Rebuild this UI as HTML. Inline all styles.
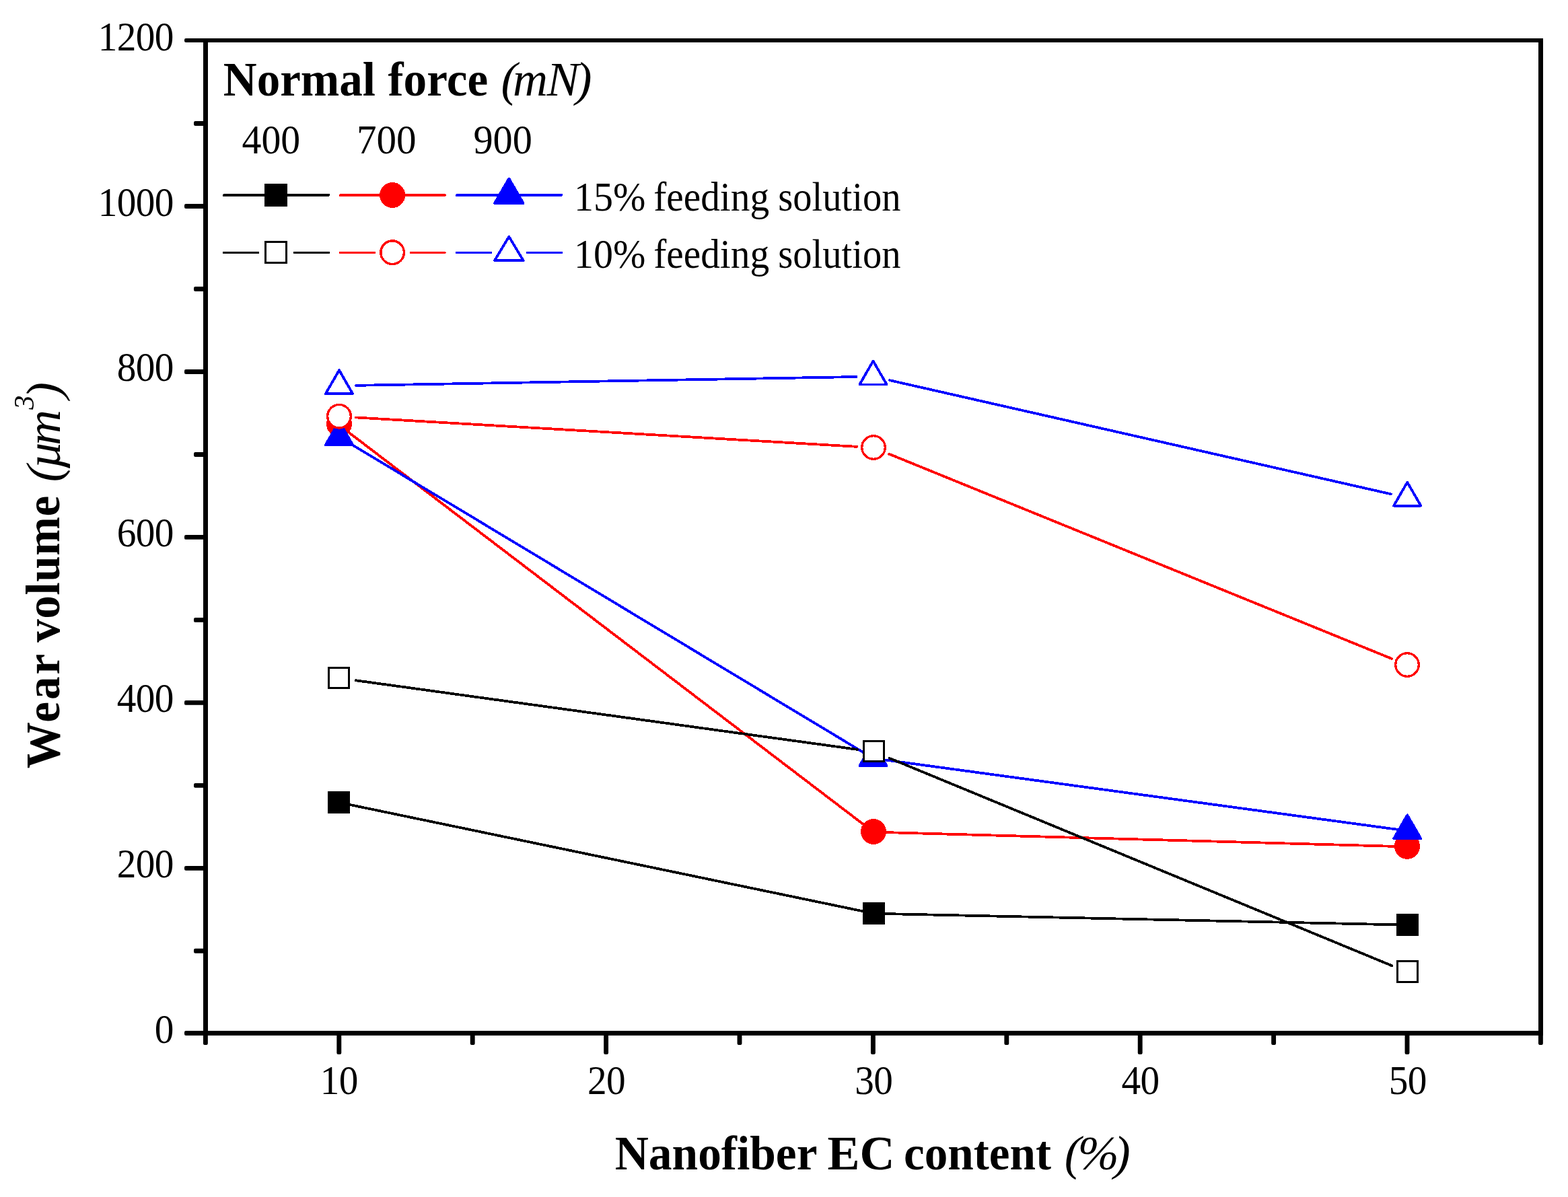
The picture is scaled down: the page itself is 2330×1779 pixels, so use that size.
<!DOCTYPE html>
<html lang="en"><head><meta charset="utf-8"><title>Wear volume vs nanofiber EC content</title>
<style>
html,body{margin:0;padding:0;background:#fff;}
body{width:2330px;height:1779px;overflow:hidden;}
svg{display:block;position:absolute;left:0;top:0;}
text{font-family:"Liberation Serif", "Times New Roman", serif;fill:#000;white-space:pre;}
.b{font-weight:bold;}
.i{font-style:italic;}
</style></head><body>
<svg width="2330" height="1779" viewBox="0 0 2330 1779" role="img" aria-label="Wear volume versus nanofiber EC content for 400, 700 and 900 mN normal force">
<rect x="0" y="0" width="2330" height="1779" fill="#ffffff"/>
<g id="series" shape-rendering="crispEdges">
<g id="k15">
<line x1="503.70" y1="1192.60" x2="1298.60" y2="1357.70" stroke="#000000" stroke-width="3.80" stroke-linecap="round"/>
<line x1="1298.60" y1="1357.70" x2="2091.50" y2="1374.70" stroke="#000000" stroke-width="3.80" stroke-linecap="round"/>
<rect x="488.50" y="1177.10" width="30.40" height="30.40" fill="#000000" stroke="#000000" stroke-width="3.00"/>
<rect x="1283.40" y="1342.20" width="30.40" height="30.40" fill="#000000" stroke="#000000" stroke-width="3.00"/>
<rect x="2076.30" y="1359.20" width="30.40" height="30.40" fill="#000000" stroke="#000000" stroke-width="3.00"/>
</g>
<g id="r15">
<line x1="504.00" y1="631.80" x2="1298.00" y2="1236.60" stroke="#ff0000" stroke-width="3.80" stroke-linecap="round"/>
<line x1="1298.00" y1="1236.60" x2="2091.00" y2="1258.40" stroke="#ff0000" stroke-width="3.80" stroke-linecap="round"/>
<circle cx="504.00" cy="630.20" r="17.30" fill="#ff0000" stroke="#ff0000" stroke-width="3.40"/>
<circle cx="1298.00" cy="1236.00" r="17.30" fill="#ff0000" stroke="#ff0000" stroke-width="3.40"/>
<circle cx="2091.00" cy="1257.80" r="17.30" fill="#ff0000" stroke="#ff0000" stroke-width="3.40"/>
</g>
<g id="b15">
<line x1="504.00" y1="649.40" x2="1297.50" y2="1127.00" stroke="#0000ff" stroke-width="3.80" stroke-linecap="round"/>
<line x1="1297.50" y1="1127.00" x2="2091.20" y2="1234.80" stroke="#0000ff" stroke-width="3.80" stroke-linecap="round"/>
<polygon points="504.00,626.20 524.10,661.10 483.90,661.10" fill="#0000ff" stroke="#0000ff" stroke-width="3.80" stroke-linejoin="round"/>
<polygon points="1297.50,1103.20 1317.60,1138.10 1277.40,1138.10" fill="#0000ff" stroke="#0000ff" stroke-width="3.80" stroke-linejoin="round"/>
<polygon points="2091.20,1211.40 2111.30,1246.30 2071.10,1246.30" fill="#0000ff" stroke="#0000ff" stroke-width="3.80" stroke-linejoin="round"/>
</g>
<g id="k10">
<line x1="528.47" y1="1011.21" x2="1273.83" y2="1113.89" stroke="#000000" stroke-width="3.80" stroke-linecap="round"/>
<line x1="1321.71" y1="1126.84" x2="2068.39" y2="1435.26" stroke="#000000" stroke-width="3.80" stroke-linecap="round"/>
<rect x="488.50" y="992.30" width="30.40" height="30.40" fill="#ffffff" stroke="#000000" stroke-width="3.00"/>
<rect x="1283.40" y="1101.30" width="30.40" height="30.40" fill="#ffffff" stroke="#000000" stroke-width="3.00"/>
<rect x="2076.30" y="1428.80" width="30.40" height="30.40" fill="#ffffff" stroke="#000000" stroke-width="3.00"/>
</g>
<g id="r10">
<line x1="528.96" y1="620.46" x2="1273.04" y2="663.84" stroke="#ff0000" stroke-width="3.80" stroke-linecap="round"/>
<line x1="1321.15" y1="674.73" x2="2067.85" y2="978.87" stroke="#ff0000" stroke-width="3.80" stroke-linecap="round"/>
<circle cx="504.00" cy="618.70" r="17.30" fill="#ffffff" stroke="#ff0000" stroke-width="3.40"/>
<circle cx="1298.00" cy="665.00" r="17.30" fill="#ffffff" stroke="#ff0000" stroke-width="3.40"/>
<circle cx="2091.00" cy="988.00" r="17.30" fill="#ffffff" stroke="#ff0000" stroke-width="3.40"/>
</g>
<g id="b10">
<line x1="529.00" y1="572.87" x2="1272.50" y2="560.03" stroke="#0000ff" stroke-width="3.80" stroke-linecap="round"/>
<line x1="1321.88" y1="565.14" x2="2066.82" y2="734.26" stroke="#0000ff" stroke-width="3.80" stroke-linecap="round"/>
<polygon points="504.00,550.20 524.10,585.10 483.90,585.10" fill="#ffffff" stroke="#0000ff" stroke-width="3.80" stroke-linejoin="round"/>
<polygon points="1297.50,536.50 1317.60,571.40 1277.40,571.40" fill="#ffffff" stroke="#0000ff" stroke-width="3.80" stroke-linejoin="round"/>
<polygon points="2091.20,716.70 2111.30,751.60 2071.10,751.60" fill="#ffffff" stroke="#0000ff" stroke-width="3.80" stroke-linejoin="round"/>
</g>
</g>
<g id="axes" fill="#000000">
<rect x="302" y="57" width="7" height="1482"/>
<rect x="2286" y="57" width="7" height="1482"/>
<rect x="302" y="57" width="1991" height="6"/>
<rect x="302" y="1532" width="1991" height="7"/>
</g>
<g id="ticks" fill="#000000">
<rect x="274.00" y="1532.00" width="31.50" height="7.00" rx="2.2"/>
<rect x="288.00" y="1409.87" width="17.50" height="6.90" rx="2.2"/>
<rect x="274.00" y="1286.89" width="31.50" height="6.90" rx="2.2"/>
<rect x="288.00" y="1163.91" width="17.50" height="6.90" rx="2.2"/>
<rect x="274.00" y="1040.93" width="31.50" height="6.90" rx="2.2"/>
<rect x="288.00" y="917.95" width="17.50" height="6.90" rx="2.2"/>
<rect x="274.00" y="794.97" width="31.50" height="6.90" rx="2.2"/>
<rect x="288.00" y="671.99" width="17.50" height="6.90" rx="2.2"/>
<rect x="274.00" y="549.01" width="31.50" height="6.90" rx="2.2"/>
<rect x="288.00" y="426.03" width="17.50" height="6.90" rx="2.2"/>
<rect x="274.00" y="303.05" width="31.50" height="6.90" rx="2.2"/>
<rect x="288.00" y="180.07" width="17.50" height="6.90" rx="2.2"/>
<rect x="274.00" y="57.00" width="31.50" height="6.00" rx="2.2"/>
<rect x="301.95" y="1535.50" width="6.90" height="17.50" rx="2.2"/>
<rect x="500.35" y="1535.50" width="6.90" height="31.50" rx="2.2"/>
<rect x="698.75" y="1535.50" width="6.90" height="17.50" rx="2.2"/>
<rect x="897.15" y="1535.50" width="6.90" height="31.50" rx="2.2"/>
<rect x="1095.55" y="1535.50" width="6.90" height="17.50" rx="2.2"/>
<rect x="1293.95" y="1535.50" width="6.90" height="31.50" rx="2.2"/>
<rect x="1492.35" y="1535.50" width="6.90" height="17.50" rx="2.2"/>
<rect x="1690.75" y="1535.50" width="6.90" height="31.50" rx="2.2"/>
<rect x="1889.15" y="1535.50" width="6.90" height="17.50" rx="2.2"/>
<rect x="2087.55" y="1535.50" width="6.90" height="31.50" rx="2.2"/>
<rect x="2285.95" y="1535.50" width="6.90" height="17.50" rx="2.2"/>
</g>
<g id="ylabels">
<text transform="translate(229.70 1549.80) scale(0.9550 1.012)" font-size="60.0" letter-spacing="-0.68">0</text>
<text transform="translate(173.83 1303.97) scale(0.9550 1.012)" font-size="60.0" letter-spacing="-0.68">200</text>
<text transform="translate(173.83 1058.14) scale(0.9550 1.012)" font-size="60.0" letter-spacing="-0.68">400</text>
<text transform="translate(173.83 812.31) scale(0.9550 1.012)" font-size="60.0" letter-spacing="-0.68">600</text>
<text transform="translate(173.83 566.48) scale(0.9550 1.012)" font-size="60.0" letter-spacing="-0.68">800</text>
<text transform="translate(145.66 320.65) scale(0.9550 1.012)" font-size="60.0" letter-spacing="-0.68">1000</text>
<text transform="translate(145.66 74.82) scale(0.9550 1.012)" font-size="60.0" letter-spacing="-0.68">1200</text>
</g>
<g id="xlabels">
<text transform="translate(475.67 1625.90) scale(0.9550 1.012)" font-size="60.0" letter-spacing="-0.68">10</text>
<text transform="translate(872.97 1625.90) scale(0.9550 1.012)" font-size="60.0" letter-spacing="-0.68">20</text>
<text transform="translate(1270.16 1625.90) scale(0.9550 1.012)" font-size="60.0" letter-spacing="-0.68">30</text>
<text transform="translate(1666.57 1625.90) scale(0.9550 1.012)" font-size="60.0" letter-spacing="-0.68">40</text>
<text transform="translate(2063.76 1625.90) scale(0.9550 1.012)" font-size="60.0" letter-spacing="-0.68">50</text>
</g>
<g id="xtitle">
<text transform="translate(913.69 1738.20) scale(0.9643 1)" font-size="72.0" class="b">Nanofiber</text>
<text transform="translate(1229.45 1738.20) scale(0.9995 1)" font-size="72.0" class="b">EC</text>
<text transform="translate(1343.10 1738.20) scale(0.9603 1)" font-size="72.0" class="b">content</text>
<text transform="translate(0 1738.10) scale(1.0200 1)" font-size="72.0" class="i"><tspan x="1550.78 1570.08 1622.74">(%)</tspan></text>
</g>
<g id="ytitle">
<text transform="translate(87.80 1142.16) rotate(-90) scale(0.9608 1)" font-size="72.0" letter-spacing="3.13" class="b">Wear</text>
<text transform="translate(87.80 954.80) rotate(-90) scale(0.9598 1)" font-size="72.0" letter-spacing="0.64" class="b">volume</text>
<text transform="translate(88.60 0) rotate(-90) scale(1.0200 1)" font-size="72.0" class="i"><tspan x="-702.16 -683.25 -649.03">(µm</tspan><tspan x="-596.88" dy="-38.60" font-size="41.5">3</tspan><tspan x="-580.94" dy="38.60">)</tspan></text>
</g>
<g id="legend">
<text transform="translate(331.80 142.00) scale(0.9589 1)" font-size="72.0" class="b">Normal</text>
<text transform="translate(576.52 142.00) scale(0.9616 1)" font-size="72.0" class="b">force</text>
<text transform="translate(0 142.00) scale(1.0000 1)" font-size="72.0" class="i"><tspan x="744.55 762.10 812.58 855.42">(mN)</tspan></text>
<text transform="translate(359.60 227.90) scale(0.9630 1.012)" font-size="60.0">400</text>
<text transform="translate(529.95 227.90) scale(0.9863 1.012)" font-size="60.0">700</text>
<text transform="translate(703.45 227.90) scale(0.9726 1.012)" font-size="60.0">900</text>
<text transform="translate(852.92 313.10) scale(0.9674 1.012)" font-size="60.0">15%</text>
<text transform="translate(971.23 313.10) scale(0.9554 1.012)" font-size="60.0">feeding</text>
<text transform="translate(1156.34 313.10) scale(0.9421 1.012)" font-size="60.0">solution</text>
<text transform="translate(852.92 398.20) scale(0.9674 1.012)" font-size="60.0">10%</text>
<text transform="translate(971.23 398.20) scale(0.9554 1.012)" font-size="60.0">feeding</text>
<text transform="translate(1156.34 398.20) scale(0.9421 1.012)" font-size="60.0">solution</text>
</g>
<g id="legend-symbols" shape-rendering="crispEdges">
<line x1="333.00" y1="290.00" x2="488.00" y2="290.00" stroke="#000000" stroke-width="4.00" stroke-linecap="round"/>
<rect x="394.50" y="274.50" width="31.00" height="31.00" fill="#000000" stroke="#000000" stroke-width="3.00"/>
<line x1="506.00" y1="290.00" x2="660.80" y2="290.00" stroke="#ff0000" stroke-width="4.00" stroke-linecap="round"/>
<circle cx="583.10" cy="290.00" r="17.30" fill="#ff0000" stroke="#ff0000" stroke-width="3.40"/>
<line x1="679.00" y1="290.00" x2="834.00" y2="290.00" stroke="#0000ff" stroke-width="4.00" stroke-linecap="round"/>
<polygon points="756.30,265.50 777.60,301.90 735.00,301.90" fill="#0000ff" stroke="#0000ff" stroke-width="3.80" stroke-linejoin="round"/>
<line x1="332.50" y1="375.50" x2="383.50" y2="375.50" stroke="#000000" stroke-width="3.00" stroke-linecap="round"/>
<line x1="437.20" y1="375.50" x2="488.50" y2="375.50" stroke="#000000" stroke-width="3.00" stroke-linecap="round"/>
<rect x="394.50" y="359.70" width="31.00" height="31.00" fill="#ffffff" stroke="#000000" stroke-width="3.00"/>
<line x1="505.50" y1="375.50" x2="556.60" y2="375.50" stroke="#ff0000" stroke-width="3.00" stroke-linecap="round"/>
<line x1="610.30" y1="375.50" x2="661.30" y2="375.50" stroke="#ff0000" stroke-width="3.00" stroke-linecap="round"/>
<circle cx="583.10" cy="375.20" r="17.30" fill="#ffffff" stroke="#ff0000" stroke-width="3.40"/>
<line x1="678.50" y1="375.50" x2="729.80" y2="375.50" stroke="#0000ff" stroke-width="3.00" stroke-linecap="round"/>
<line x1="783.50" y1="375.50" x2="834.50" y2="375.50" stroke="#0000ff" stroke-width="3.00" stroke-linecap="round"/>
<polygon points="756.30,351.70 777.60,387.10 735.00,387.10" fill="#ffffff" stroke="#0000ff" stroke-width="3.80" stroke-linejoin="round"/>
</g>
</svg>
</body></html>
